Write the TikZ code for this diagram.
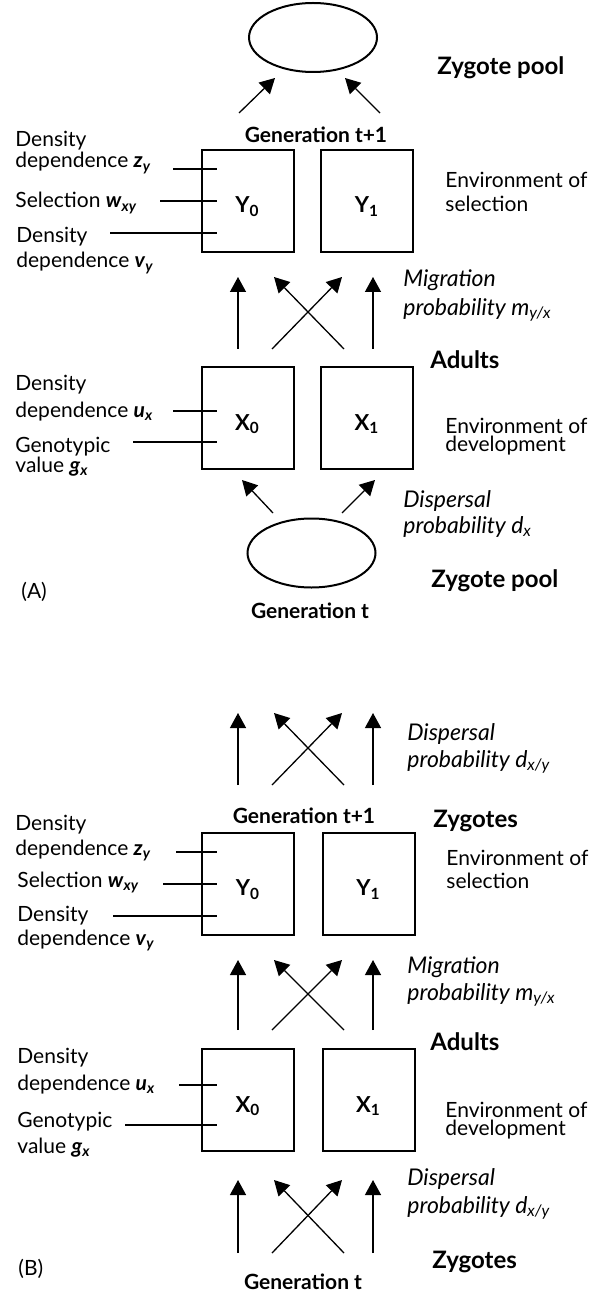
\documentclass[tikz,border=0pt]{standalone}
\usepackage{fontspec}
\setmainfont{Lato}
\usetikzlibrary{calc, arrows.meta, shapes.geometric}

\newcommand{\pvar}[2]{\textbf{\textit{#1}\textsubscript{\textit{#2}}}}

\tikzset{
  cell/.style={draw, line width=1pt, minimum width=46pt, minimum height=51pt, inner sep=0pt,
    text height=12pt, text depth=0pt, font=\bfseries\fontsize{11}{12}\selectfont},
  pool/.style={draw, ellipse, line width=1pt, minimum width=64pt, minimum height=34.5pt, inner sep=0pt},
  flow/.style={line width=0.65pt, -{Triangle[length=7.5pt,width=8pt]}},
  lead/.style={line width=0.65pt},
  lbl/.style={anchor=base west, inner sep=0pt, font=\fontsize{10.5}{12}\selectfont},
  gen/.style={anchor=base, inner sep=0pt, font=\bfseries\fontsize{10.5}{12}\selectfont},
  hdr/.style={lbl, font=\bfseries\fontsize{12}{14}\selectfont},
  prob/.style={lbl, font=\itshape\fontsize{11.5}{13}\selectfont},
}

\begin{document}
\begin{tikzpicture}[x=0.5pt, y=-0.5pt]
    \useasboundingbox (0,0) rectangle (599,1294);

    % (A) zygote pool model
    \node[pool] (poolT) at (313,37.5) {};
    \node[pool] (poolB) at (311.5,553) {};
    \node[cell] (Y0a) at (247.5,201) {Y\textsubscript{0}};
    \node[cell] (Y1a) at (367,201) {Y\textsubscript{1}};
    \node[cell] (X0a) at (247.5,418) {X\textsubscript{0}};
    \node[cell] (X1a) at (367,418) {X\textsubscript{1}};

    \coordinate (tA1) at (239,113);  \coordinate (hA1) at (275,78);
    \coordinate (tA2) at (380,113);  \coordinate (hA2) at (345,78);
    \coordinate (tA3) at (273,513);  \coordinate (hA3) at (242,480);
    \coordinate (tA4) at (342,513);  \coordinate (hA4) at (375,480);
    \foreach \m in {1,...,4}
        \draw[flow] (tA\m) -- (hA\m);

    \node[hdr] (zpT) at (437,75) {Zygote pool};
    \node[gen] (genT) at (316,143) {Generation t+1};
    \node[lbl] (dzA1) at (15,147) {Density};
    \node[lbl] (dzA2) at (15,168) {dependence \pvar{z}{y}};
    \node[lbl] (swA) at (15,208) {Selection \pvar{w}{xy}};
    \node[lbl] (dvA1) at (16,243) {Density};
    \node[lbl] (dvA2) at (16,268) {dependence \pvar{v}{y}};
    \node[lbl] (esA1) at (445,188) {Environment of};
    \node[lbl] (esA2) at (445,212) {selection};
    \node[prob] (miA1) at (403,287) {Migration};
    \node[prob] (miA2) at (403,315) {probability m\textsubscript{y/x}};
    \node[hdr] (adA) at (430,368) {Adults};
    \node[lbl] (duA1) at (15,390) {Density};
    \node[lbl] (duA2) at (15,417) {dependence \pvar{u}{x}};
    \node[lbl] (gvA1) at (15,452) {Genotypic};
    \node[lbl] (gvA2) at (15,472) {value \pvar{g}{x}};
    \node[lbl] (edA1) at (445,433) {Environment of};
    \node[lbl] (edA2) at (445,451) {development};
    \node[prob] (dpA1) at (403,507) {Dispersal};
    \node[prob] (dpA2) at (403,533) {probability d\textsubscript{x}};
    \node[hdr] (zpB) at (431,587) {Zygote pool};
    \node[lbl] (tagA) at (21,598) {(A)};
    \node[gen] (genA) at (310,618) {Generation t};

    % (B) local zygotes
    \node[cell] (Y0b) at (248,883.5) {Y\textsubscript{0}};
    \node[cell] (Y1b) at (368.5,883.5) {Y\textsubscript{1}};
    \node[cell] (X0b) at (248,1100) {X\textsubscript{0}};
    \node[cell] (X1b) at (368.5,1100) {X\textsubscript{1}};

    \node[prob] (dpB1) at (407,740) {Dispersal};
    \node[prob] (dpB2) at (407,767) {probability d\textsubscript{x/y}};
    \node[gen] (genT2) at (304,823) {Generation t+1};
    \node[hdr] (zyB1) at (433,827) {Zygotes};
    \node[lbl] (dzB1) at (15,830) {Density};
    \node[lbl] (dzB2) at (15,855) {dependence \pvar{z}{y}};
    \node[lbl] (swB) at (17,887) {Selection \pvar{w}{xy}};
    \node[lbl] (dvB1) at (17,921) {Density};
    \node[lbl] (dvB2) at (17,945) {dependence \pvar{v}{y}};
    \node[lbl] (esB1) at (446,865) {Environment of};
    \node[lbl] (esB2) at (446,888) {selection};
    \node[prob] (miB1) at (407,973) {Migration};
    \node[prob] (miB2) at (407,1000) {probability m\textsubscript{y/x}};
    \node[hdr] (adB) at (430,1050) {Adults};
    \node[lbl] (duB1) at (17,1063) {Density};
    \node[lbl] (duB2) at (17,1090) {dependence \pvar{u}{x}};
    \node[lbl] (gvB1) at (17,1127) {Genotypic};
    \node[lbl] (gvB2) at (17,1153) {value \pvar{g}{x}};
    \node[lbl] (edB1) at (445,1117) {Environment of};
    \node[lbl] (edB2) at (445,1135) {development};
    \node[prob] (dpB3) at (407,1185) {Dispersal};
    \node[prob] (dpB4) at (407,1213) {probability d\textsubscript{x/y}};
    \node[hdr] (zyB2) at (432,1268) {Zygotes};
    \node[lbl] (tagB) at (18,1275) {(B)};
    \node[gen] (genB) at (303,1289) {Generation t};

    % straight and crossed arrows between the rows
    \foreach \n/\yt/\yh in {mA/349/277, dB/785/713, mB/1030/960, zB/1253/1180} {
        \coordinate (\n t1) at (238,\yt);  \coordinate (\n h1) at (238,\yh);
        \coordinate (\n t2) at (272,\yt);  \coordinate (\n h2) at (342,\yh);
        \coordinate (\n t3) at (344,\yt);  \coordinate (\n h3) at (274,\yh);
        \coordinate (\n t4) at (373,\yt);  \coordinate (\n h4) at (373,\yh);
        \foreach \m in {1,...,4}
            \draw[flow] (\n t\m) -- (\n h\m);
    }

    % leader lines into the boxes
    \foreach \s/\bx/\x/\y in {lzA/Y0a/173/169, lwA/Y0a/160/201, lvA/Y0a/110/233,
                              luA/X0a/173/411, lgA/X0a/133/442,
                              lzB/Y0b/176/852, lwB/Y0b/163/884, lvB/Y0b/113/916,
                              luB/X0b/179/1085, lgB/X0b/125/1125} {
        \coordinate (\s) at (\x,\y);
        \draw[lead] (\s) -- ($(\s -| \bx.west)+(16,0)$);
    }
\end{tikzpicture}
\end{document}
